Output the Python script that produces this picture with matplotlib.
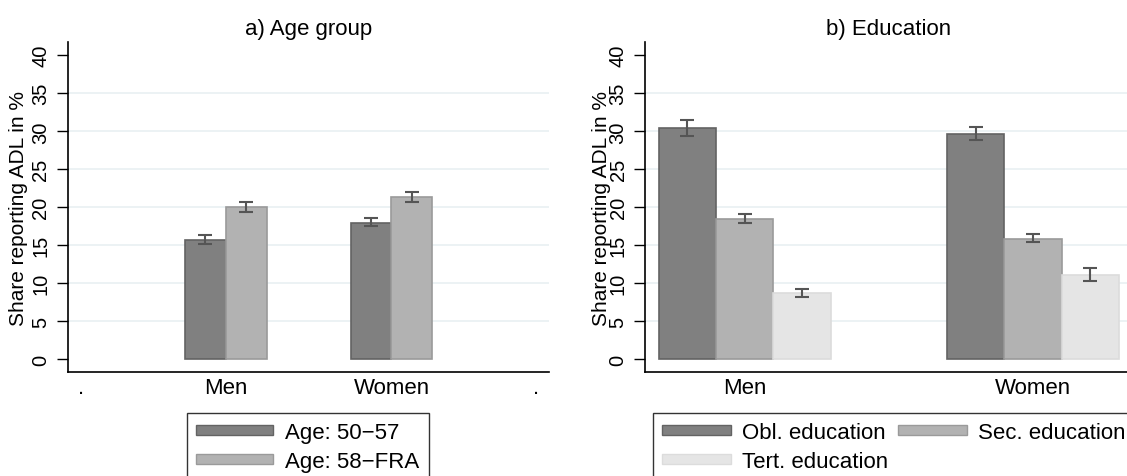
import numpy as np
import matplotlib.pyplot as plt
from matplotlib.patches import Patch

plt.rcParams['font.family'] = ['Liberation Sans', 'DejaVu Sans']

groups = ['Men', 'Women']
yticks = [0, 5, 10, 15, 20, 25, 30, 35, 40]

# a) age group (mean, lower ci, upper ci)
age_labels = ['Age: 50\u221257', 'Age: 58\u2212FRA']
age_mean = [[15.7, 18.0], [20.0, 21.3]]
age_lo = [[15.2, 17.5], [19.4, 20.65]]
age_hi = [[16.3, 18.6], [20.7, 22.05]]

# b) education
edu_labels = ['Obl. education', 'Sec. education', 'Tert. education']
edu_mean = [[30.4, 29.7], [18.5, 15.9], [8.7, 11.1]]
edu_lo = [[29.4, 28.9], [17.9, 15.4], [8.2, 10.35]]
edu_hi = [[31.5, 30.6], [19.1, 16.5], [9.3, 12.0]]

fills = ['#808080', '#b2b2b2', '#e5e5e5']
edges = ['#636363', '#9a9a9a', '#dcdcdc']
errc = '#555555'
gridc = '#eaf1f3'

W, H = 1127, 477
fig = plt.figure(figsize=(W / 100, H / 100), dpi=100)


def px_axes(x0, x1, y0, y1):
    return fig.add_axes([x0 / W, 1 - y1 / H, (x1 - x0) / W, (y1 - y0) / H])


def style(ax, title, lab_x):
    ax.set_ylim(-1.7, 41.75)
    ax.set_yticks(yticks)
    ax.set_yticklabels([str(t) for t in yticks], rotation=90, va='center')
    ax.tick_params(axis='y', length=8, width=1, pad=4.5, labelsize=14.5)
    ax.tick_params(axis='x', length=0, pad=3.5, labelsize=16)
    ax.grid(axis='y', color=gridc, lw=1.3)
    ax.set_axisbelow(True)
    gl = ax.get_ygridlines()
    gl[0].set_visible(False)
    gl[-1].set_visible(False)
    for s in ['top', 'right']:
        ax.spines[s].set_visible(False)
    for s in ['left', 'bottom']:
        ax.spines[s].set_linewidth(1.2)
    ax.set_title(title, fontsize=16, pad=6)
    ax.text(lab_x, 0.5, 'Share reporting ADL in %', transform=ax.transAxes,
            rotation=90, ha='center', va='center', fontsize=15)


def bars(ax, mean, lo, hi, w):
    n = len(mean)
    x = np.arange(len(groups))
    for i in range(n):
        xi = x + (i - (n - 1) / 2) * w
        m = np.array(mean[i])
        err = [m - np.array(lo[i]), np.array(hi[i]) - m]
        ax.bar(xi, m, w, color=fills[i], edgecolor=edges[i], lw=1.2, zorder=2)
        ax.errorbar(xi, m, yerr=err, fmt='none', ecolor=errc, elinewidth=1.5,
                    capsize=5, capthick=1.5, zorder=3)


# panel a
ax1 = px_axes(67.7, 549, 43, 373.3)
bars(ax1, age_mean, age_lo, age_hi, 0.247)
ax1.set_xlim(-0.951, 1.949)
ax1.set_xticks([-0.87, 0, 1, 1.87])
ax1.set_xticklabels(['.', 'Men', 'Women', '.'])
style(ax1, 'a) Age group', -0.103)

# panel b
ax2 = px_axes(645, 1132.7, 43, 373.3)
bars(ax2, edu_mean, edu_lo, edu_hi, 0.199)
ax2.set_xlim(-0.346, 1.346)
ax2.set_xticks([0, 1])
ax2.set_xticklabels(groups)
style(ax2, 'b) Education', -0.090)

# legends
h_age = [Patch(facecolor=fills[i], edgecolor=edges[i], lw=1) for i in range(2)]
fig.legend(h_age, age_labels, loc='upper left', bbox_to_anchor=(187 / W, 1 - 414 / H),
           fontsize=16, frameon=True, fancybox=False, edgecolor='black',
           handlelength=3.45, handleheight=0.3, handletextpad=0.54,
           labelspacing=0.33, borderpad=0.42, borderaxespad=0)

h_edu = [Patch(facecolor=fills[i], edgecolor=edges[i], lw=1) for i in range(3)]
order = [0, 2, 1]
fig.legend([h_edu[i] for i in order], [edu_labels[i] for i in order], ncol=2,
           loc='upper left', bbox_to_anchor=(652.7 / W, 1 - 414 / H),
           fontsize=16, frameon=True, fancybox=False, edgecolor='black',
           handlelength=3.1, handleheight=0.3, handletextpad=0.5,
           labelspacing=0.33, columnspacing=0.45, borderpad=0.42, borderaxespad=0)

for lg in fig.legends:
    lg.get_frame().set_linewidth(1.0)

fig.savefig('out.png', dpi=100)
